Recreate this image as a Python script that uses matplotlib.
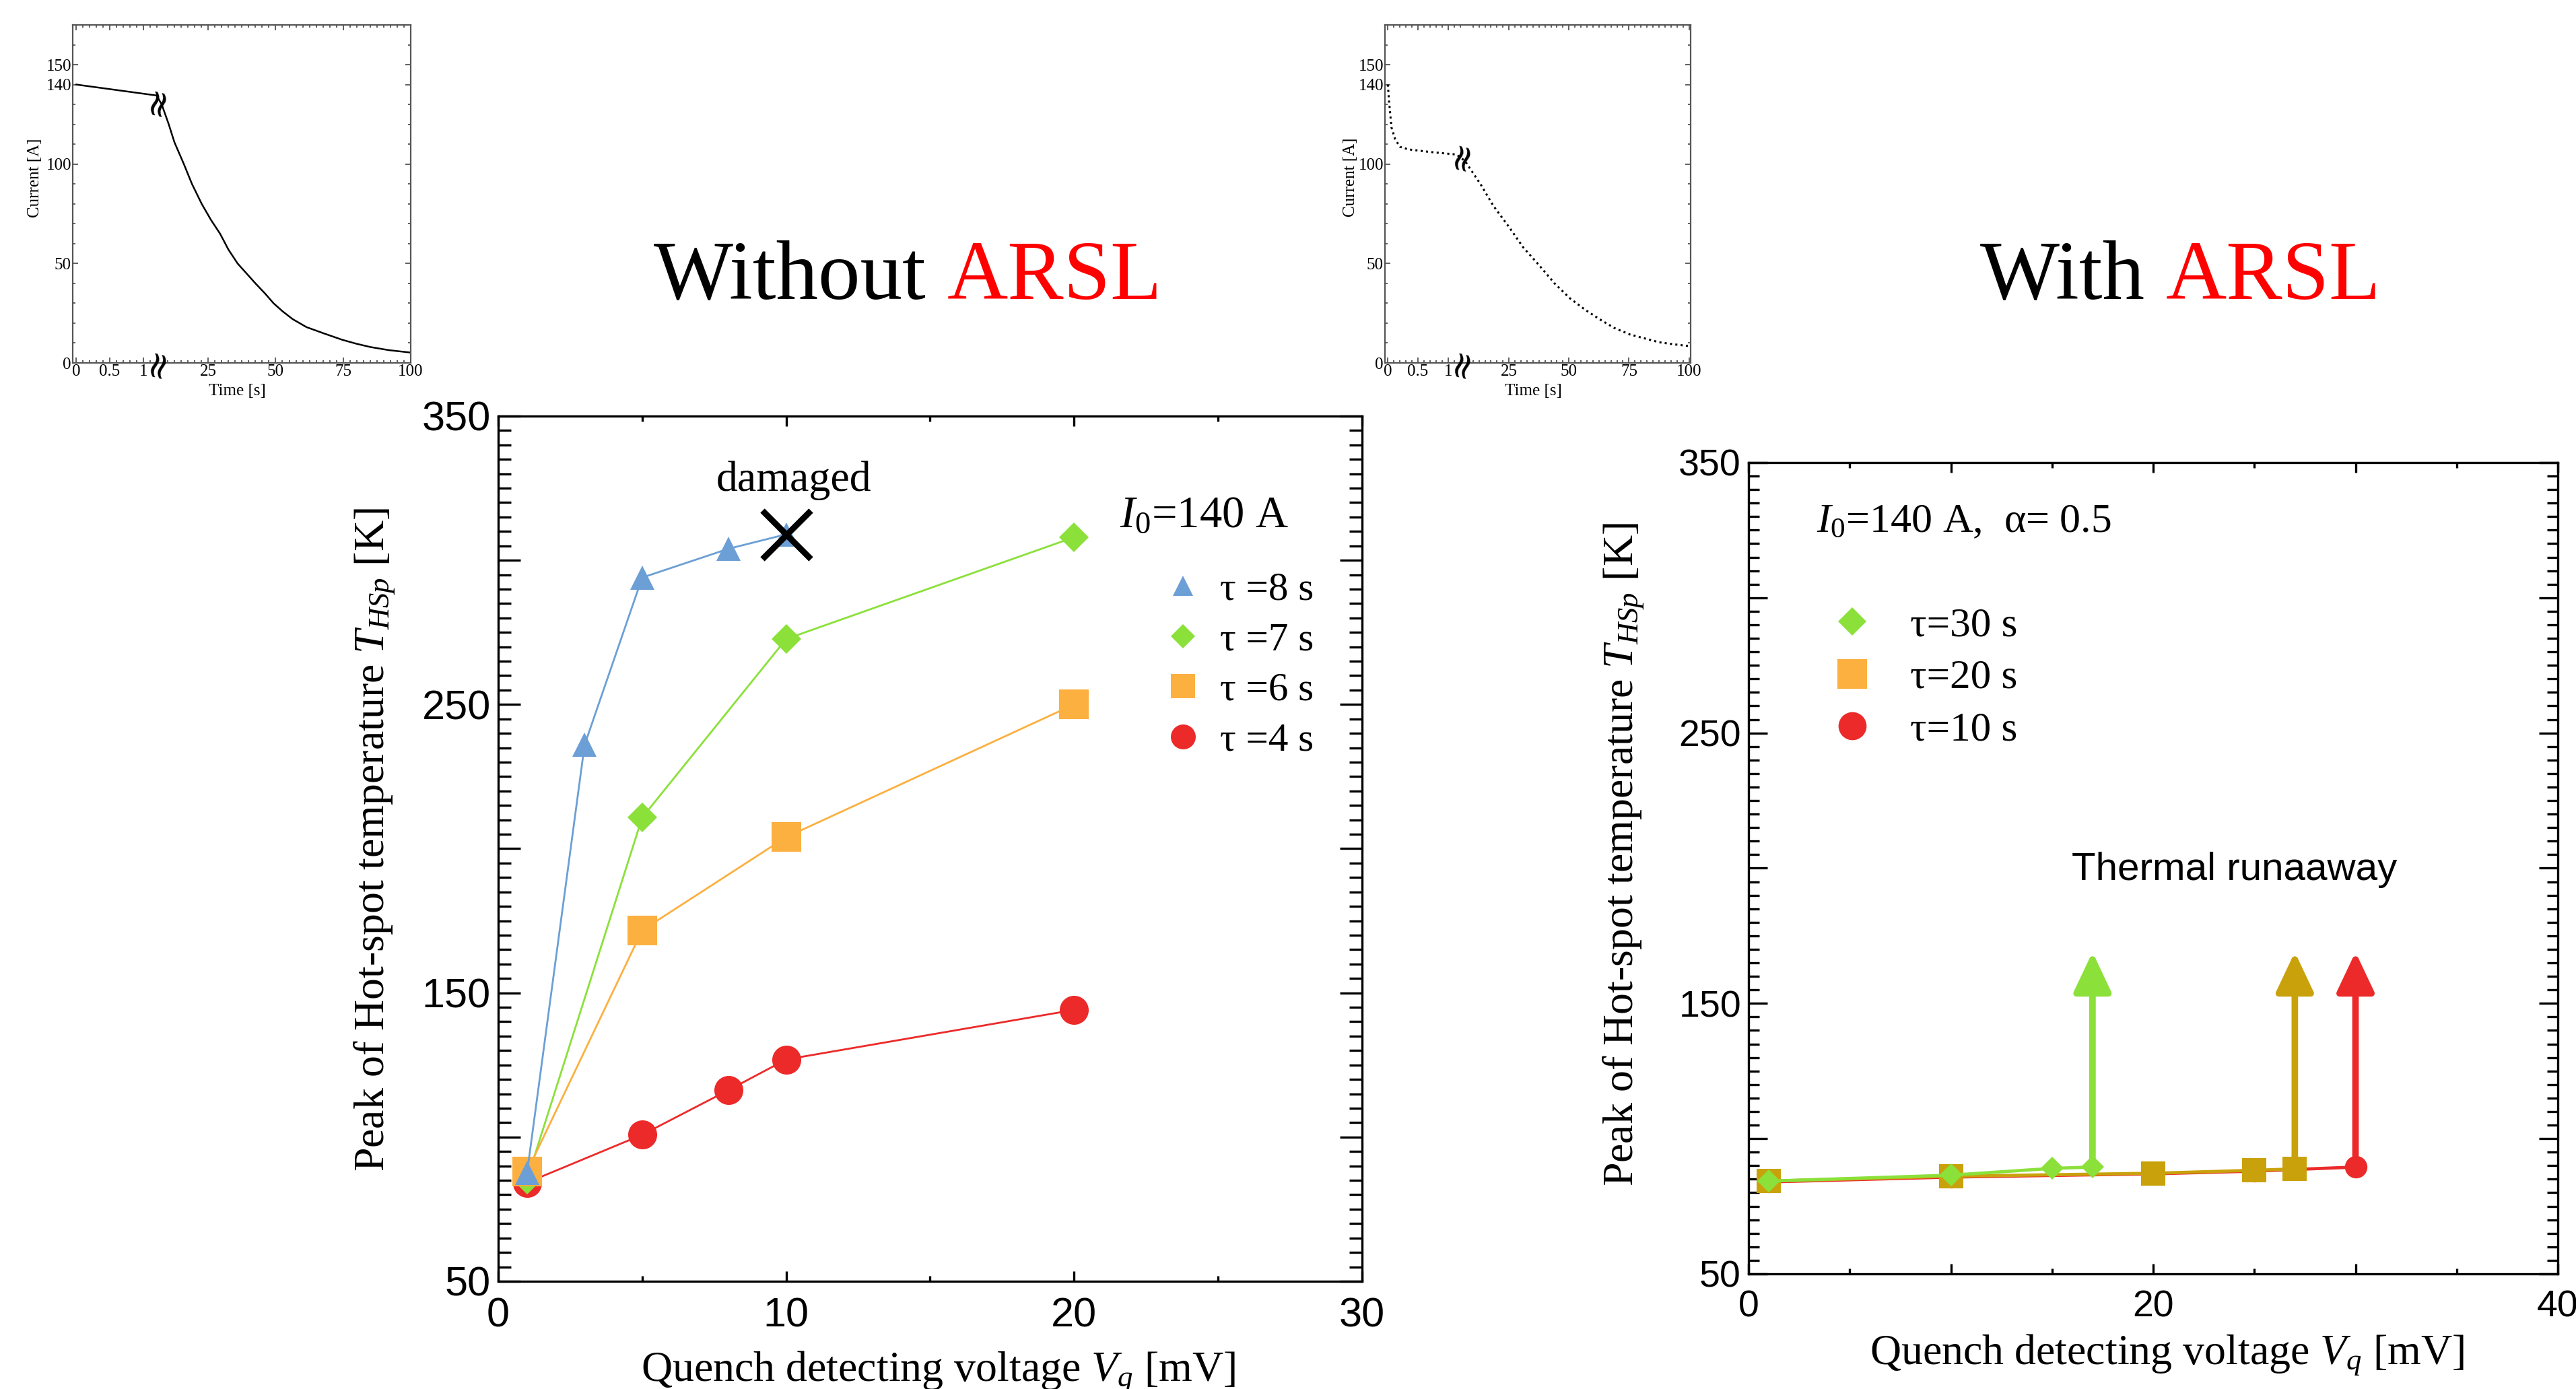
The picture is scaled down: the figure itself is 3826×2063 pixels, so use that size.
import matplotlib
matplotlib.use('Agg')
import matplotlib.pyplot as plt
from matplotlib.lines import Line2D
from matplotlib.patches import FancyArrowPatch
import numpy as np

plt.rcParams['font.family'] = ['Liberation Serif', 'DejaVu Serif']
plt.rcParams['mathtext.fontset'] = 'custom'
plt.rcParams['mathtext.rm'] = 'Liberation Serif'
plt.rcParams['mathtext.it'] = 'Liberation Serif:italic'

# ---------------- values ----------------
# inset, current decay without ARSL (solid)
time_no = [0, 1.2, 7.8, 10.4, 12.5, 16.0, 19.0, 22.6, 26.0, 29.4, 32.5, 35.9, 42.5, 46.0,
           49.2, 52.5, 56.3, 61.4, 67.5, 74.7, 80.0, 85.0, 92.0, 100]
curr_no = [140, 134.5, 130, 120, 111, 100, 90, 80, 72, 65, 57, 50, 40, 35,
           30, 26, 22, 18, 15, 11.6, 9.6, 8, 6.4, 5.2]
# inset, current decay with ARSL (dotted)
time_ar = [0, 0.02, 0.06, 0.12, 0.2, 0.34, 0.7, 1.14, 6.65, 13.2, 18.5, 25, 31, 37.3, 44,
           50.3, 57, 63.4, 69, 75.4, 87.5, 94, 100]
curr_ar = [140, 131.5, 118.5, 112.6, 108.7, 107.4, 106.1, 104.8, 101.6, 89.8, 79, 68.4, 58, 49.5, 40,
           32.6, 26.5, 21.5, 17.5, 14.3, 10.4, 9.3, 8.5]

# left panel, without ARSL
vq_t8 = [1, 3, 5, 8, 10]
hs_t8 = [87.5, 236, 294, 304, 309]
vq_t7 = [1, 5, 10, 20]
hs_t7 = [85.3, 210.8, 272.7, 308]
vq_t6 = [1, 5, 10, 20]
hs_t6 = [88, 171.7, 204, 250]
vq_t4 = [1, 5, 8, 10, 20]
hs_t4 = [84.2, 100.8, 116.3, 126.9, 144.1]
labels_left = ['τ =8 s', 'τ =7 s', 'τ =6 s', 'τ =4 s']

# right panel, with ARSL
vq_t30 = [1, 10, 15, 17]
hs_t30 = [84.3, 86.5, 89, 89.5]
vq_t20 = [1, 10, 20, 25, 27]
hs_t20 = [84.3, 86.1, 87.2, 88.3, 88.8]
vq_t10 = [1, 10, 20, 25, 30]
hs_t10 = [84, 85.8, 87, 88, 89.5]
labels_right = ['τ=30 s', 'τ=20 s', 'τ=10 s']
runaway_top = 169

BLUE = '#6c9fd5'
GREEN = '#8be03a'
ORANGE = '#fbb040'
RED = '#ec2a2a'
GOLD = '#c9a20b'

fig = plt.figure(figsize=(38.26, 20.63), dpi=100)

# ---------------- small current insets with a broken time axis ----------------
def broken_time_axis(ax, knots_t, knots_u):
    fwd = lambda t: np.interp(t, knots_t, knots_u)
    inv = lambda u: np.interp(u, knots_u, knots_t)
    ax.set_xscale('function', functions=(fwd, inv))

def style_inset(ax, xlim):
    ax.set_xlim(*xlim)
    ax.set_ylim(0, 170)
    ax.set_xticks([0, 0.5, 1, 25, 50, 75, 100])
    ax.set_xticklabels(['0', '0.5', '1', '25', '50', '75', '100'])
    ax.set_xticks(list(np.arange(0, 1.21, 0.1)) + list(np.arange(10, 100.1, 2.5)), minor=True)
    ax.set_yticks([0, 50, 100, 140, 150])
    ax.set_yticks(np.arange(0, 171, 10), minor=True)
    ax.tick_params(which='both', direction='in', top=True, right=True,
                   labelsize=18, pad=1.5, color='#444444')
    ax.tick_params(which='major', length=6, width=1.2)
    ax.tick_params(which='minor', length=3, width=1.2)
    for s in ax.spines.values():
        s.set_linewidth(1.6)
        s.set_color('#555555')
    ax.set_xlabel('Time [s]', fontsize=18)
    ax.set_ylabel('Current [A]', fontsize=18)
    ax.xaxis.set_label_coords(0.486, -0.084)
    ax.xaxis.label.set_va('center')
    ax.yaxis.label.set_va('center')

def break_marks(ax, t_mark, y_curve):
    for y in (0, y_curve):
        ax.text(t_mark, y, '≈', rotation=76, fontsize=40, ha='center', va='center',
                family=['DejaVu Serif'], clip_on=False, zorder=6)

ins1 = fig.add_axes([0.02823, 0.73873, 0.13121, 0.24334])
broken_time_axis(ins1, [-10, 0, 1.2, 6.6, 100, 300],
                 [113.3 - 994, 113.3, 232.6, 235.4, 610, 1412])
ins1.plot(time_no, curr_no, color='black', lw=1.8)
style_inset(ins1, (-0.053, 100))
ins1.yaxis.set_label_coords(-0.112, 0.548)
break_marks(ins1, 3.0, 132)

ins2 = fig.add_axes([0.53764, 0.73873, 0.11866, 0.24334])
broken_time_axis(ins2, [-10, 0, 1.21, 5.2, 100, 300],
                 [2061.3 - 894, 2061.3, 2169.5, 2170.6, 2508.5, 3221.3])
ins2.plot(time_ar, curr_ar, color='black', lw=2.2, ls=(0, (1, 1.6)))
style_inset(ins2, (-0.048, 100.7))
ins2.yaxis.set_label_coords(-0.112, 0.55)
ins2.xaxis.set_label_coords(0.485, -0.084)
break_marks(ins2, 3.0, 104.5)

# ---------------- main panels ----------------
def style_main(ax, xmax, xmajor, xminor, xlabels, labsize, ymaj_len, ymin_len):
    ax.set_xlim(0, xmax)
    ax.set_ylim(50, 350)
    ax.set_xticks(xmajor)
    ax.set_xticklabels(xlabels)
    ax.set_xticks(xminor, minor=True)
    yt = np.arange(50, 351, 50)
    ax.set_yticks(yt)
    ax.set_yticklabels([str(v) if v % 100 == 50 else '' for v in yt])
    ax.set_yticks(np.arange(50, 351, 5), minor=True)
    ax.tick_params(which='both', direction='in', top=True, right=True, width=2.4,
                   labelsize=labsize, labelfontfamily='Liberation Sans')
    ax.tick_params(axis='x', which='major', length=11, pad=17)
    ax.tick_params(axis='x', which='minor', length=5.5)
    ax.tick_params(axis='y', which='major', length=ymaj_len, pad=8)
    ax.tick_params(axis='y', which='minor', length=ymin_len)
    for s in ax.spines.values():
        s.set_linewidth(2.4)
    ax.set_xlabel(r'Quench detecting voltage $V_q$ [mV]', fontsize=46)
    ax.set_ylabel(r'Peak of Hot-spot temperature $T_{HSp}$ [K]', fontsize=46)
    ax.xaxis.label.set_va('center')
    ax.yaxis.label.set_va('center')

axL = fig.add_axes([0.19341, 0.07756, 0.33534, 0.62288])
axL.plot(vq_t4, hs_t4, color=RED, lw=2, marker='o', ms=31, mew=0)
axL.plot(vq_t7, hs_t7, color=GREEN, lw=2, marker='D', ms=22.5, mew=0)
axL.plot(vq_t6, hs_t6, color=ORANGE, lw=2, marker='s', ms=32, mew=0)
axL.plot(vq_t8, hs_t8, color=BLUE, lw=2, marker='^', ms=26, mew=0)
axL.plot(vq_t8[-1], hs_t8[-1], marker='x', color='black', ms=52, mew=6.5, zorder=5)
axL.text(vq_t8[-1] + 0.27, 324, 'damaged', fontsize=46, ha='center', va='baseline')
axL.text(21.58, 311.5, r'$I_0$=140 A', fontsize=48, va='baseline')
style_main(axL, 30, [0, 10, 20, 30], [5, 15, 25], ['0', '10', '20', '30'], 44, 24, 14)
axL.xaxis.set_label_coords(0.509, -0.104)
axL.yaxis.set_label_coords(-0.1434, 0.51)

hL = [Line2D([], [], ls='none', marker='^', ms=21.6, color=BLUE, mew=0),
      Line2D([], [], ls='none', marker='D', ms=18.8, color=GREEN, mew=0),
      Line2D([], [], ls='none', marker='s', ms=26.6, color=ORANGE, mew=0),
      Line2D([], [], ls='none', marker='o', ms=26.6, color=RED, mew=0)]
axL.legend(hL, labels_left, loc='upper left', bbox_to_anchor=(0.7717, 0.820),
           frameon=False, fontsize=42.6, handlelength=0.9, handletextpad=0.49,
           labelspacing=0.34, borderpad=0, borderaxespad=0)

axR = fig.add_axes([0.67878, 0.08289, 0.31417, 0.58410])
axR.plot(vq_t10, hs_t10, color=RED, lw=3.4, marker='o', ms=24, mew=0)
axR.plot(vq_t20, hs_t20, color=GOLD, lw=3.4, marker='s', ms=26, mew=0)
axR.plot(vq_t30, hs_t30, color=GREEN, lw=3.4, marker='D', ms=17.3, mew=0)
for vq, hs, c in [(vq_t30, hs_t30, GREEN), (vq_t20, hs_t20, GOLD), (vq_t10, hs_t10, RED)]:
    axR.add_patch(FancyArrowPatch((vq[-1], hs[-1]), (vq[-1], runaway_top),
                                  arrowstyle='-|>,head_length=36,head_width=17',
                                  mutation_scale=1, lw=7, color=c,
                                  shrinkA=0, shrinkB=0, zorder=4))
axR.text(3.36, 324.4, r'$I_0$=140 A,  α= 0.5', fontsize=44.6, va='baseline')
axR.text(15.97, 195.7, 'Thermal runaaway', fontsize=42, va='baseline',
         family=['Liberation Sans'])
style_main(axR, 40, [0, 10, 20, 30, 40], [5, 15, 25, 35], ['0', '', '20', '', '40'], 40, 20, 11.5)
axR.xaxis.set_label_coords(0.517, -0.0996)
axR.yaxis.set_label_coords(-0.155, 0.517)

hR = [Line2D([], [], ls='none', marker='D', ms=21.4, color=GREEN, mew=0),
      Line2D([], [], ls='none', marker='s', ms=31, color=ORANGE, mew=0),
      Line2D([], [], ls='none', marker='o', ms=30, color=RED, mew=0)]
axR.legend(hR, labels_right, loc='upper left', bbox_to_anchor=(0.103, 0.8216),
           frameon=False, fontsize=44, handlelength=1.0, handletextpad=0.9,
           labelspacing=0.35, borderpad=0, borderaxespad=0)

# ---------------- headings ----------------
fig.text(1376 / 3826, 0.7848, 'Without', fontsize=90, ha='right', va='baseline')
fig.text(1407 / 3826, 0.7848, 'ARSL', fontsize=90, ha='left', va='baseline', color='#ff0000')
fig.text(3186 / 3826, 0.7848, 'With', fontsize=90, ha='right', va='baseline')
fig.text(3217 / 3826, 0.7848, 'ARSL', fontsize=90, ha='left', va='baseline', color='#ff0000')

fig.savefig('out.png', dpi=100)
